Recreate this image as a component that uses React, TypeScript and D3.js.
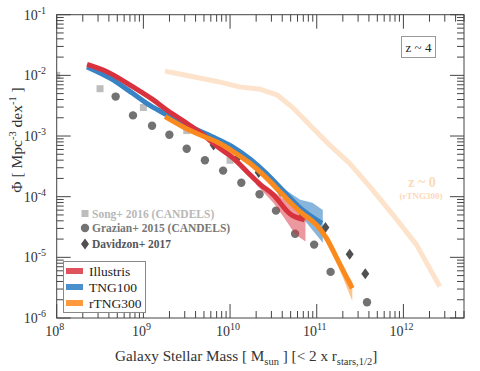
import React from "react";
import * as d3 from "d3";

// ---- data (log10 values) ----
const songLogM = [8.0, 8.5, 9.0, 9.5, 10.0];
const songLogPhi = [-2.0, -2.22, -2.53, -2.91, -3.4];

const grazianLogM = [8.68, 8.88, 9.1, 9.3, 9.5, 9.71, 9.92, 10.13, 10.34, 10.53, 10.75, 10.97, 11.16, 11.58];
const grazianLogPhi = [-2.35, -2.66, -2.83, -2.98, -3.21, -3.4, -3.57, -3.77, -3.96, -4.23, -4.61, -4.79, -5.24, -5.74];

const davidzonLogM = [9.81, 10.08, 10.33, 10.58, 10.84, 11.1, 11.38, 11.56];
const davidzonLogPhi = [-3.15, -3.37, -3.6, -3.91, -4.3, -4.51, -4.95, -5.27];

const illustrisLogM = [8.35, 8.58, 8.88, 9.11, 9.27, 9.46, 9.69, 9.85, 10.04, 10.19, 10.35, 10.5, 10.69, 10.86];
const illustrisLogPhi = [-1.82, -1.94, -2.19, -2.4, -2.57, -2.75, -2.98, -3.17, -3.37, -3.58, -3.8, -3.97, -4.28, -4.38];
const illustrisBandLogM = [10.3, 10.5, 10.63, 10.75, 10.87];
const illustrisBandLo = [-3.8, -4.1, -4.36, -4.62, -4.74];
const illustrisBandHi = [-3.72, -3.92, -4.05, -4.18, -4.27];

const tng100LogM = [8.35, 8.62, 8.88, 9.08, 9.27, 9.5, 9.81, 10.02, 10.23, 10.42, 10.61, 10.81, 11.06];
const tng100LogPhi = [-1.86, -2.05, -2.3, -2.5, -2.65, -2.82, -3.02, -3.17, -3.38, -3.62, -3.9, -4.19, -4.44];
const tng100BandLogM = [10.5, 10.61, 10.81, 10.95, 11.07];
const tng100BandLo = [-3.78, -3.97, -4.3, -4.55, -4.76];
const tng100BandHi = [-3.7, -3.86, -4.05, -4.1, -4.22];

const rtng300LogM = [9.25, 9.46, 9.65, 9.85, 10.04, 10.23, 10.42, 10.61, 10.81, 11.0, 11.11, 11.23, 11.33, 11.41];
const rtng300LogPhi = [-2.68, -2.85, -2.98, -3.1, -3.26, -3.45, -3.69, -3.97, -4.25, -4.47, -4.68, -5.01, -5.29, -5.51];
const rtng300BandLogM = [11.2, 11.3, 11.41];
const rtng300BandLo = [-5.0, -5.33, -5.72];
const rtng300BandHi = [-4.92, -5.2, -5.4];

const z0LogM = [9.25, 9.46, 9.85, 10.11, 10.35, 10.54, 10.73, 10.92, 11.15, 11.38, 11.61, 11.88, 12.15, 12.42];
const z0LogPhi = [-1.93, -1.99, -2.1, -2.19, -2.23, -2.32, -2.54, -2.82, -3.15, -3.45, -3.83, -4.3, -4.79, -5.48];

const xTickExps = [8, 9, 10, 11, 12];
const yTickExps = [-6, -5, -4, -3, -2, -1];

const legendNames = ["Illustris", "TNG100", "rTNG300"];
const legendColors = ["#e0535c", "#4a90cc", "#ff9a3c"];

const RED = "#d8323e";
const BLUE = "#3783c5";
const ORANGE = "#fa8a1e";
const Z0 = "#fde3cc";

const W = 480;
const H = 371;
const X0 = 56.7, X1 = 464, Y0 = 318, Y1 = 14.7;

export default function App() {
  const x = d3.scaleLog().domain([1e8, 5e12]).range([X0, X1]);
  const y = d3.scaleLog().domain([1e-6, 1e-1]).range([Y0, Y1]);
  const px = (lm: number) => x(Math.pow(10, lm));
  const py = (lp: number) => y(Math.pow(10, lp));

  const pts = (ms: number[], ps: number[]) => ms.map((m, i) => [m, ps[i]] as [number, number]);

  const lineLin = d3.line<[number, number]>().x(d => px(d[0])).y(d => py(d[1]));
  const lineSmooth = d3.line<[number, number]>().x(d => px(d[0])).y(d => py(d[1])).curve(d3.curveMonotoneX);
  const area = (ms: number[], lo: number[], hi: number[]) =>
    d3.area<number>().x((_, i) => px(ms[i])).y0((_, i) => py(lo[i])).y1((_, i) => py(hi[i])).curve(d3.curveLinear)(ms) || "";

  // ticks
  const xMinor: { v: number; major: boolean }[] = [];
  for (let e = 8; e <= 12; e++) for (let k = 1; k <= 9; k++) {
    const v = k * Math.pow(10, e);
    if (v <= 5e12) xMinor.push({ v, major: k === 1 });
  }
  const yMinor: { v: number; major: boolean }[] = [];
  for (let e = -6; e <= -2; e++) for (let k = 1; k <= 9; k++) {
    yMinor.push({ v: k * Math.pow(10, e), major: k === 1 });
  }
  yMinor.push({ v: 1e-1, major: true });

  const axisColor = "#444";
  const serif = "'Liberation Serif', 'DejaVu Serif', serif";

  return (
    <svg width={W} height={H} style={{ position: "absolute", left: 0, top: 0, background: "#fff" }} fontFamily={serif}>
      <defs>
        <clipPath id="plotclip">
          <rect x={X0} y={Y1} width={X1 - X0} height={Y0 - Y1} />
        </clipPath>
      </defs>

      <g clipPath="url(#plotclip)">
        {/* z~0 reference */}
        <path d={lineLin(pts(z0LogM, z0LogPhi)) || ""} fill="none" stroke={Z0} strokeWidth={5} strokeLinejoin="round" />

        {/* observational markers */}
        {songLogM.map((m, i) => (
          <rect key={"s" + i} x={px(m) - 3.5} y={py(songLogPhi[i]) - 3.5} width={7} height={7} fill="#bdbdbd" />
        ))}
        {grazianLogM.map((m, i) => (
          <circle key={"g" + i} cx={px(m)} cy={py(grazianLogPhi[i])} r={4.2} fill="#727272" />
        ))}
        {davidzonLogM.map((m, i) => {
          const cx = px(m), cy = py(davidzonLogPhi[i]);
          return <path key={"d" + i} d={`M${cx},${cy - 5.5}L${cx + 4},${cy}L${cx},${cy + 5.5}L${cx - 4},${cy}Z`} fill="#505050" />;
        })}

        {/* bands */}
        <path d={area(tng100BandLogM, tng100BandLo, tng100BandHi)} fill={BLUE} opacity={0.6} />
        <path d={area(illustrisBandLogM, illustrisBandLo, illustrisBandHi)} fill={RED} opacity={0.5} />
        <path d={area(rtng300BandLogM, rtng300BandLo, rtng300BandHi)} fill={ORANGE} opacity={0.5} />

        {/* simulation lines */}
        <path d={lineSmooth(pts(tng100LogM, tng100LogPhi)) || ""} fill="none" stroke={BLUE} strokeWidth={5} />
        <path d={lineSmooth(pts(illustrisLogM, illustrisLogPhi)) || ""} fill="none" stroke={RED} strokeWidth={5} strokeLinejoin="round" />
        <path d={lineSmooth(pts(rtng300LogM, rtng300LogPhi)) || ""} fill="none" stroke={ORANGE} strokeWidth={5} />
      </g>

      {/* frame */}
      <rect x={X0} y={Y1} width={X1 - X0} height={Y0 - Y1} fill="none" stroke={axisColor} strokeWidth={1} />

      {/* x ticks (bottom and top, inward) */}
      {xMinor.map((t, i) => {
        const xx = x(t.v);
        const len = t.major ? 14 : 7;
        return (
          <g key={"xt" + i} stroke={axisColor} strokeWidth={1}>
            <line x1={xx} x2={xx} y1={Y0} y2={Y0 - len} />
            <line x1={xx} x2={xx} y1={Y1} y2={Y1 + len} />
          </g>
        );
      })}
      {/* y ticks (left and right, inward) */}
      {yMinor.map((t, i) => {
        const yy = y(t.v);
        const len = t.major ? 14 : 7;
        return (
          <g key={"yt" + i} stroke={axisColor} strokeWidth={1}>
            <line x1={X0} x2={X0 + len} y1={yy} y2={yy} />
            <line x1={X1} x2={X1 - len} y1={yy} y2={yy} />
          </g>
        );
      })}

      {/* tick labels */}
      {xTickExps.map(e => (
        <text key={"xl" + e} x={x(Math.pow(10, e)) - 2} y={336} textAnchor="middle" fontSize={14} fill="#333">
          10<tspan dy={-6} fontSize={10}>{e}</tspan>
        </text>
      ))}
      {yTickExps.map(e => (
        <text key={"yl" + e} x={46} y={y(Math.pow(10, e)) + 5} textAnchor="end" fontSize={14} fill="#333">
          10<tspan dy={-6} fontSize={10}>{e}</tspan>
        </text>
      ))}

      {/* axis titles */}
      <text x={115} y={361} fontSize={15.2} fill="#333">
        Galaxy Stellar Mass [ M<tspan dy={4} fontSize={10.5}>sun</tspan><tspan dy={-4}> ] [&lt; 2 x r</tspan><tspan dy={4} fontSize={10.5}>stars,1/2</tspan><tspan dy={-4}>]</tspan>
      </text>
      <text transform="translate(22,140) rotate(-90)" textAnchor="middle" fontSize={15.5} fill="#333">
        Φ [ Mpc<tspan dy={-6} fontSize={10.5}>-3</tspan><tspan dy={6}> dex</tspan><tspan dy={-6} fontSize={10.5}>-1</tspan><tspan dy={6}> ]</tspan>
      </text>

      {/* z~4 box */}
      <rect x={401.5} y={36.5} width={34} height={21} fill="#fff" stroke="#999" strokeWidth={1} />
      <text x={418.5} y={52} textAnchor="middle" fontSize={13} fill="#222">z ~ 4</text>

      {/* z~0 label */}
      <text x={422} y={187} textAnchor="middle" fontSize={14} fontWeight="bold" fill="#fdd9b8">z ~ 0</text>
      <text x={421} y={199} textAnchor="middle" fontSize={9} fontWeight="bold" fill="#fdd9b8">(rTNG300)</text>

      {/* marker legend */}
      <rect x={81.5} y={210} width={7} height={7} fill="#bdbdbd" />
      <text x={92} y={217.5} fontSize={11.5} fontWeight="bold" fill="#b8b8b8">Song+ 2016 (CANDELS)</text>
      <circle cx={85} cy={228} r={4.2} fill="#727272" />
      <text x={92} y={232} fontSize={11.5} fontWeight="bold" fill="#777">Grazian+ 2015 (CANDELS)</text>
      <path d="M85,238.5L89,244L85,249.5L81,244Z" fill="#505050" />
      <text x={92} y={248} fontSize={11.5} fontWeight="bold" fill="#555">Davidzon+ 2017</text>

      {/* lines legend */}
      <rect x={63.5} y={261.5} width={82} height={51} fill="#fff" stroke="#888" strokeWidth={1} />
      {legendNames.map((n, i) => (
        <g key={"lg" + i}>
          <rect x={66} y={268 + i * 16} width={17} height={6} fill={legendColors[i]} />
          <text x={89} y={276 + i * 16} fontSize={13.5} fill="#222">{n}</text>
        </g>
      ))}
    </svg>
  );
}
